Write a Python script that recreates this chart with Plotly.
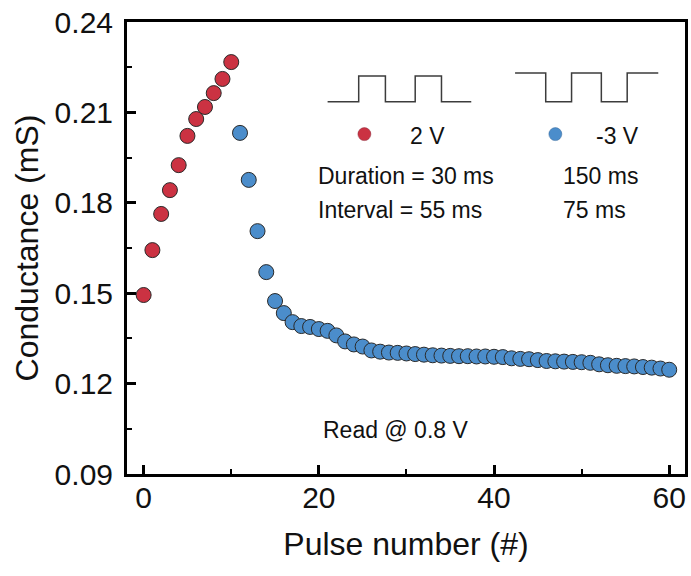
import plotly.graph_objects as go

# Pulse index and conductance readings (mS)
pulse_pos = list(range(0, 11))
g_pos = [0.1494, 0.1643, 0.1763, 0.1842, 0.1925, 0.2022, 0.2078, 0.2118,
         0.2164, 0.2211, 0.2267]

pulse_neg = list(range(11, 61))
g_neg = [0.2032, 0.1876, 0.1706, 0.1570, 0.1474, 0.1434, 0.1404, 0.1391,
         0.1388, 0.1381, 0.1375, 0.1360, 0.1340, 0.1330, 0.1323, 0.1310,
         0.1306, 0.1303, 0.1302, 0.1300, 0.1298, 0.1296, 0.1294, 0.1293,
         0.1292, 0.1291, 0.1291, 0.1290, 0.1290, 0.1289, 0.1288, 0.1284,
         0.1282, 0.1281, 0.1278, 0.1275, 0.1274, 0.1273, 0.1272, 0.1271,
         0.1269, 0.1264, 0.1261, 0.1259, 0.1258, 0.1257, 0.1255, 0.1253,
         0.1250, 0.1246]

x_ticks = [0, 20, 40, 60]
y_ticks = [0.09, 0.12, 0.15, 0.18, 0.21, 0.24]
y_tick_text = ["0.09", "0.12", "0.15", "0.18", "0.21", "0.24"]

RED = "#CB3242"
BLUE = "#4B8DCB"
EDGE = "#2a2a2a"
FONT = "Liberation Sans, Arial, sans-serif"

fig = go.Figure()

fig.add_trace(go.Scatter(
    x=pulse_pos, y=g_pos, mode="markers", name="2 V",
    marker=dict(size=15, color=RED, line=dict(color=EDGE, width=1)),
    showlegend=False))
fig.add_trace(go.Scatter(
    x=pulse_neg, y=g_neg, mode="markers", name="-3 V",
    marker=dict(size=15, color=BLUE, line=dict(color=EDGE, width=1)),
    showlegend=False))

# Legend-style key markers inside the plot
fig.add_trace(go.Scatter(
    x=[25.2], y=[0.2028], mode="markers", showlegend=False, hoverinfo="skip",
    marker=dict(size=13, color=RED, line=dict(color="#8a3040", width=0.5))))
fig.add_trace(go.Scatter(
    x=[47.0], y=[0.2028], mode="markers", showlegend=False, hoverinfo="skip",
    marker=dict(size=13, color=BLUE, line=dict(color="#3a6a9a", width=0.5))))

# Pulse waveform sketches
def wave_path(xs, ys):
    parts = [f"M {xs[0]},{ys[0]}"]
    for x, y in zip(xs[1:], ys[1:]):
        parts.append(f"L {x},{y}")
    return " ".join(parts)

lo_p, hi_p = 0.2135, 0.2221
xp = [21.0, 24.55, 24.55, 27.6, 27.6, 31.0, 31.0, 34.0, 34.0, 37.4]
yp = [lo_p, lo_p, hi_p, hi_p, lo_p, lo_p, hi_p, hi_p, lo_p, lo_p]

hi_n, lo_n = 0.2231, 0.2135
xn = [42.4, 45.9, 45.9, 48.85, 48.85, 52.25, 52.25, 55.2, 55.2, 58.75]
yn = [hi_n, hi_n, lo_n, lo_n, hi_n, hi_n, lo_n, lo_n, hi_n, hi_n]

shapes = [
    dict(type="path", path=wave_path(xp, yp), xref="x", yref="y",
         line=dict(color="#3c3c3c", width=1.5)),
    dict(type="path", path=wave_path(xn, yn), xref="x", yref="y",
         line=dict(color="#3c3c3c", width=1.5)),
]

ann_font = dict(family=FONT, size=23, color="#111111")
annotations = [
    dict(x=30.2, y=0.2022, text="2 V"),
    dict(x=51.4, y=0.2022, text="-3 V"),
    dict(x=19.7, y=0.1890, text="Duration = 30 ms"),
    dict(x=47.7, y=0.1890, text="150 ms"),
    dict(x=19.7, y=0.1777, text="Interval = 55 ms"),
    dict(x=47.7, y=0.1777, text="75 ms"),
    dict(x=20.2, y=0.1046, text="Read @ 0.8 V"),
]
for a in annotations:
    a.update(xref="x", yref="y", xanchor="left", yanchor="middle",
             showarrow=False, font=ann_font)

axis_common = dict(
    showline=True, linecolor="black", linewidth=3, mirror=True,
    ticks="inside", tickwidth=2.5, ticklen=9, tickcolor="black",
    showgrid=False, zeroline=False,
    tickfont=dict(family=FONT, size=30, color="#111111"),
)

fig.update_layout(
    width=691, height=576,
    margin=dict(l=127, r=3, t=22, b=102),
    paper_bgcolor="white", plot_bgcolor="white",
    shapes=shapes, annotations=annotations,
    xaxis=dict(
        range=[-1.9, 61.8], tickvals=x_ticks, ticklabelstandoff=-5,
        minor=dict(dtick=10, tick0=0, ticks="inside", ticklen=5,
                   tickwidth=2, tickcolor="black", showgrid=False),
        title=dict(text="Pulse number (#)", standoff=20,
                   font=dict(family=FONT, size=32, color="#111111")),
        **axis_common),
    yaxis=dict(
        range=[0.09, 0.24], tickvals=y_ticks, ticktext=y_tick_text,
        ticklabelstandoff=5,
        minor=dict(dtick=0.015, tick0=0.09, ticks="inside", ticklen=5,
                   tickwidth=2, tickcolor="black", showgrid=False),
        title=dict(text="Conductance (mS)", standoff=7,
                   font=dict(family=FONT, size=32, color="#111111")),
        **axis_common),
)

fig.write_html("out.html")
